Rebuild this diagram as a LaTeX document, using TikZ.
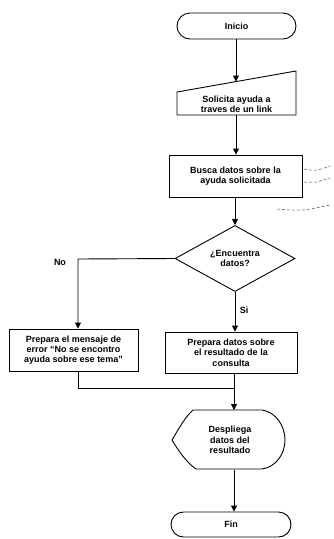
\documentclass[tikz,border=0pt]{standalone}
\usepackage{fontspec}
\setmainfont{Liberation Sans}
\usetikzlibrary{shapes.misc,shapes.geometric,arrows.meta}
\begin{document}
\begin{tikzpicture}[x=1pt,y=-1pt,
  line width=0.9pt,
  txt/.style={font=\bfseries\fontsize{9}{10.3}\selectfont, align=center, inner sep=0pt},
  boxst/.style={txt, draw, rectangle},
  termst/.style={txt, draw, rounded rectangle, rounded rectangle arc length=180},
  decst/.style={txt, draw, diamond},
  arr/.style={-{Triangle[length=6pt,width=6pt]}},
  lbl/.style={font=\bfseries\fontsize{9}{10}\selectfont, inner sep=0pt},
  note/.style={dashed, line width=0.5pt, dash pattern=on 3pt off 2pt, black!70}
]
\useasboundingbox (0,0) rectangle (334,539);

% Start
\node[termst, minimum width=119pt, minimum height=26pt] (ini) at (236.5,26) {Inicio};

% Manual input
\node[txt, minimum width=119pt, minimum height=23pt] (sol) at (236.5,104) {Solicita ayuda a\\traves de un link};
\draw (177,92) -- (296,71) -- (296,115) -- (177,115) -- cycle;
\coordinate (solt) at (236,81.5);
\coordinate (solb) at (236,115);

% Process
\node[boxst, minimum width=133pt, minimum height=42pt] (bus) at (235.5,176) {Busca datos sobre la\\ayuda solicitada};

% Decision
\node[decst, minimum width=120pt, minimum height=60pt, inner sep=0pt] (dia) at (235,258.5) {¿Encuentra\\datos?};

% Left / right processes
\node[boxst, minimum width=129pt, minimum height=42pt] (err) at (73.5,350) {Prepara el mensaje de\\error ``No se encontro\\ayuda sobre ese tema''};
\node[boxst, minimum width=132pt, minimum height=41pt] (res) at (231,352.5) {Prepara datos sobre\\el resultado de la\\consulta};

% Display
\node[txt, minimum width=113pt, minimum height=59pt] (des) at (230,440) {Despliega\\datos del\\resultado};
\draw (193,410) -- (262,410)
      .. controls (276,412) and (285,426) .. (285,440)
      .. controls (285,454) and (276,467) .. (262,469)
      -- (196,469)
      .. controls (186,462) and (178,450) .. (172,440)
      .. controls (178,430) and (185,417) .. (193,410) -- cycle;

% End
\node[termst, minimum width=120pt, minimum height=25pt] (fin) at (231,524.5) {Fin};

% Coordinates for routing
\coordinate (cl) at (78,259);
\coordinate (mg) at (234,388);
\coordinate (ml) at (78,388);

% Connectors
\draw[arr] (ini.south -| solt) -- (solt);
\draw[arr] (solb) -- (solb |- bus.north);
\draw[arr] (bus.south -| dia.north) -- (dia.north);
\draw[arr] (dia.west) -- (cl) -- (cl |- err.north);
\draw[arr] (dia.south) -- (dia.south |- res.north);
\draw (cl |- err.south) -- (ml) -- (mg);
\draw[arr] (mg |- res.south) -- (mg |- des.north);
\draw[arr] (mg |- des.south) -- (mg |- fin.north);

% Labels
\node[lbl] (no) at (60,262) {No};
\node[lbl] (si) at (244,310) {Si};

% Dashed annotation
\draw[note] (304,169) .. controls (316,171) .. (330,166);
\draw[note] (304,182) -- (317,182) -- (330,178);
\draw[note] (277,209) .. controls (302,211) .. (330,205);
\end{tikzpicture}
\end{document}
